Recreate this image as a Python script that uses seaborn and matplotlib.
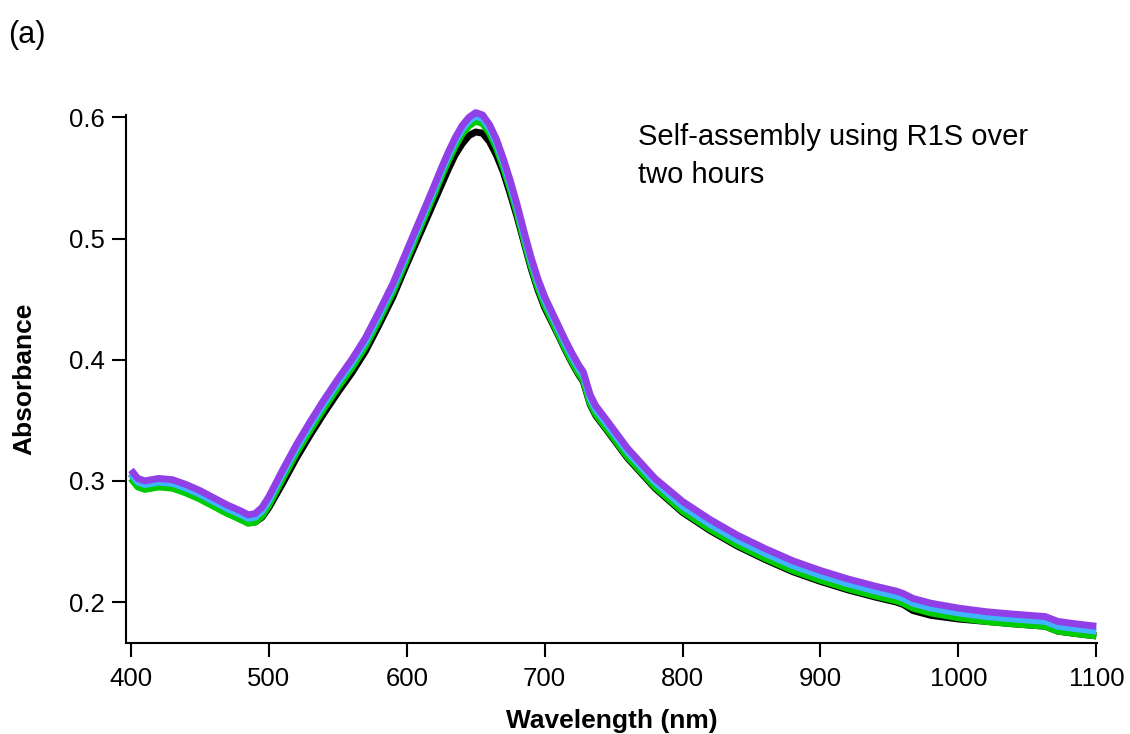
import matplotlib
matplotlib.use("Agg")
import matplotlib.pyplot as plt
import seaborn as sns
import pandas as pd

wavelength = [400, 405, 410, 415, 420, 430, 440, 450, 460, 470, 480, 485, 490, 495, 500,
              505, 510, 520, 530, 540, 550, 560, 570, 580, 590, 600, 610, 620, 625, 630,
              635, 640, 645, 650, 655, 660, 665, 670, 675, 680, 685, 690, 695, 700, 710,
              715, 720, 725, 728, 733, 737, 745, 760, 780, 800, 820, 840, 860, 880, 900,
              920, 940, 955, 960, 967, 980, 1000, 1020, 1040, 1063, 1072, 1085, 1100]

abs_purple = [0.309, 0.302, 0.300, 0.301, 0.302, 0.301, 0.297, 0.292, 0.286, 0.280, 0.275, 0.272, 0.273, 0.278, 0.287,
              0.298, 0.309, 0.330, 0.349, 0.367, 0.384, 0.400, 0.418, 0.440, 0.463, 0.490, 0.517, 0.544, 0.558, 0.571,
              0.583, 0.593, 0.600, 0.604, 0.602, 0.594, 0.582, 0.566, 0.548, 0.528, 0.506, 0.485, 0.467, 0.452, 0.428,
              0.416, 0.405, 0.395, 0.390, 0.371, 0.362, 0.350, 0.327, 0.302, 0.283, 0.268, 0.255, 0.244, 0.234, 0.226,
              0.219, 0.213, 0.209, 0.207, 0.203, 0.199, 0.195, 0.192, 0.190, 0.188, 0.184, 0.182, 0.180]

abs_cyan = [0.306, 0.299, 0.297, 0.298, 0.299, 0.298, 0.294, 0.289, 0.283, 0.277, 0.272, 0.269, 0.270, 0.275, 0.284,
            0.295, 0.306, 0.327, 0.346, 0.364, 0.381, 0.397, 0.415, 0.437, 0.460, 0.487, 0.514, 0.541, 0.555, 0.568,
            0.580, 0.590, 0.597, 0.601, 0.599, 0.591, 0.579, 0.563, 0.545, 0.525, 0.503, 0.482, 0.464, 0.449, 0.425,
            0.413, 0.402, 0.392, 0.387, 0.368, 0.359, 0.347, 0.324, 0.299, 0.279, 0.264, 0.251, 0.240, 0.230, 0.222,
            0.215, 0.209, 0.205, 0.203, 0.199, 0.195, 0.191, 0.188, 0.186, 0.184, 0.180, 0.178, 0.176]

abs_green = [0.302, 0.295, 0.293, 0.294, 0.295, 0.294, 0.290, 0.285, 0.279, 0.273, 0.268, 0.265, 0.266, 0.271, 0.280,
             0.291, 0.302, 0.323, 0.342, 0.360, 0.377, 0.393, 0.411, 0.433, 0.456, 0.483, 0.510, 0.537, 0.551, 0.564,
             0.576, 0.586, 0.593, 0.597, 0.595, 0.587, 0.575, 0.559, 0.541, 0.521, 0.499, 0.478, 0.460, 0.445, 0.421,
             0.409, 0.398, 0.388, 0.383, 0.364, 0.355, 0.343, 0.320, 0.295, 0.275, 0.260, 0.247, 0.236, 0.226, 0.218,
             0.211, 0.205, 0.201, 0.199, 0.195, 0.191, 0.187, 0.184, 0.182, 0.180, 0.176, 0.174, 0.172]

abs_black = [0.306, 0.299, 0.296, 0.296, 0.297, 0.295, 0.291, 0.286, 0.280, 0.274, 0.268, 0.266, 0.266, 0.270, 0.278,
             0.288, 0.298, 0.319, 0.338, 0.356, 0.373, 0.389, 0.407, 0.429, 0.452, 0.479, 0.505, 0.531, 0.544, 0.557,
             0.569, 0.578, 0.585, 0.588, 0.587, 0.580, 0.569, 0.555, 0.537, 0.518, 0.497, 0.476, 0.458, 0.443, 0.420,
             0.408, 0.397, 0.387, 0.382, 0.363, 0.354, 0.342, 0.319, 0.294, 0.274, 0.259, 0.246, 0.235, 0.225, 0.217,
             0.210, 0.204, 0.200, 0.198, 0.193, 0.189, 0.186, 0.184, 0.182, 0.180, 0.176, 0.174, 0.172]

series_names = ["black", "green", "cyan", "purple"]
series_colors = ["#000000", "#00cc00", "#3fb4ff", "#9040e6"]
x_ticks = [400, 500, 600, 700, 800, 900, 1000, 1100]
y_ticks = [0.2, 0.3, 0.4, 0.5, 0.6]

frames = []
for name, vals in zip(series_names, [abs_black, abs_green, abs_cyan, abs_purple]):
    frames.append(pd.DataFrame({"Wavelength": wavelength, "Absorbance": vals, "series": name}))
df = pd.concat(frames, ignore_index=True)

sns.set_style("ticks")
plt.rcParams["font.family"] = ["Liberation Sans", "DejaVu Sans"]
plt.rcParams["text.color"] = "black"
plt.rcParams["axes.labelcolor"] = "black"
plt.rcParams["xtick.color"] = "black"
plt.rcParams["ytick.color"] = "black"

fig = plt.figure(figsize=(11.3, 7.34), dpi=100)
ax = fig.add_axes([0.1115, 0.124, 0.8593, 0.7193])

sns.lineplot(data=df, x="Wavelength", y="Absorbance", hue="series", hue_order=series_names,
             palette=dict(zip(series_names, series_colors)), linewidth=5, legend=False,
             ax=ax, estimator=None, sort=False)
for ln in ax.lines:
    ln.set_clip_on(False)
    ln.set_solid_capstyle("butt")
    ln.set_solid_joinstyle("round")

ax.set_xlim(396.4, 1100.5)
ax.set_ylim(0.1662, 0.602)
ax.set_xticks(x_ticks)
ax.set_xticklabels([str(v) for v in x_ticks])
ax.set_yticks(y_ticks)
ax.set_yticklabels([f"{v:.1f}" for v in y_ticks])
ax.tick_params(direction="out", length=10, width=1.5, labelsize=18.5, colors="black", pad=5)
ax.tick_params(axis="x", pad=7)
for side in ["top", "right"]:
    ax.spines[side].set_visible(False)
for side in ["left", "bottom"]:
    ax.spines[side].set_linewidth(1.5)
    ax.spines[side].set_color("black")

ax.set_xlabel("Wavelength (nm)", fontsize=19, fontweight="bold", labelpad=13)
ax.set_ylabel("Absorbance", fontsize=19, fontweight="bold", labelpad=24)

fig.text(0.5646, 1 - 123 / 734, "Self-assembly using R1S over\ntwo hours", fontsize=21,
         va="top", ha="left", linespacing=1.45)
fig.text(0.007, 1 - 20 / 734, "(a)", fontsize=22, va="top", ha="left")

fig.savefig("out.png", dpi=100)
